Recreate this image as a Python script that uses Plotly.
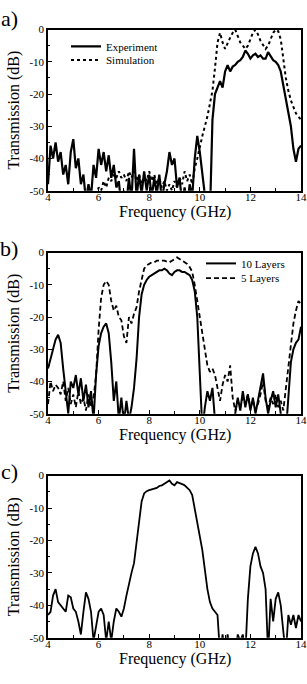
import plotly.graph_objects as go

# ---------------- data ----------------
freq = [round(4.0 + 0.1 * i, 1) for i in range(101)]

exp_a = [-48, -36, -40, -35, -41, -38, -45, -42, -48, -38,
         -34, -43, -40, -48, -45, -53, -48, -52, -42, -46,
         -37, -42, -38, -44, -39, -46, -42, -49, -47, -55,
         -50, -54, -46, -53, -37, -52, -45, -51, -44, -50,
         -45, -52, -46, -51, -45, -53, -48, -44, -38, -42,
         -40, -49, -46, -54, -49, -55, -48, -52, -40, -33,
         -38, -44, -50, -58, -58, -28, -20, -18, -16, -18,
         -13, -11, -13, -11.5, -11, -10, -9.5, -8.5, -6.5, -7.5,
         -9, -8, -7.5, -8.5, -8, -9, -9, -7, -8.5, -9.5,
         -10, -11, -13, -17, -21, -25, -30, -37, -41, -37,
         -36]

freq_sim = [round(5.8 + 0.1 * i, 1) for i in range(83)]
sim_a = [-55, -52, -49, -50, -47, -49, -46, -47, -45, -46,
         -44, -46, -45, -47, -44, -46, -44, -47, -45, -48,
         -45, -47, -44, -47, -45, -48, -46, -49, -47, -50,
         -48, -50, -47, -49, -46, -48, -44, -47, -45, -48,
         -43, -40, -36, -33, -30, -27, -23, -19, -12, -4,
         -1, -4, -6, -4.5, -2.5, -1, 0, -2, -4, -5,
         -6, -5, -3, -1, 0, -1.5, -3.5, -5, -6, -5,
         -3, -1, 0, -0.5, -3, -9, -15, -19, -22, -24,
         -26, -27, -28]

layers10_b = [-36, -33, -30, -27, -25.5, -28, -36, -44, -50, -40,
              -42, -38, -44, -39, -46, -41, -48, -43, -52, -38,
              -29, -25, -23, -22, -25, -34, -46, -40, -52, -45,
              -53, -46, -52, -48, -42, -33, -20, -13, -10, -8.5,
              -7.5, -7, -6.5, -6, -5.5, -5.5, -5, -5.5, -6.5, -7,
              -6, -5.5, -5.5, -6, -6, -6.5, -7, -8.5, -12, -20,
              -38, -55, -48, -43, -46, -42, -52, -56, -56, -56,
              -56, -56, -56, -56, -50, -45, -49, -43, -48, -44,
              -49, -45, -50, -46, -42, -37.5, -45, -50, -46, -43,
              -48, -44, -50, -56, -56, -45, -34, -30, -28, -27,
              -23]

layers5_b = [-47, -40, -43, -41, -42, -44, -40, -46, -42, -47,
             -44, -48, -43, -47, -45, -49, -44, -48, -45, -38,
             -24, -14, -10, -8.8, -10, -15, -18, -16.5, -20, -21,
             -26, -28, -20, -22, -19, -17, -12, -8, -5, -4,
             -3.5, -3, -3, -2.5, -2.5, -2.5, -2.5, -2.8, -3, -2.5,
             -2, -1.5, -2, -2.5, -3, -3.5, -4.5, -6, -10, -15,
             -20, -25, -30, -35, -37, -36, -38, -42, -46, -41,
             -38, -40, -35, -45, -49, -46, -48, -45, -47, -44,
             -48, -46, -49, -47, -44, -40, -46, -48, -45, -47,
             -44, -48, -46, -49, -42, -35, -28, -22, -18, -15,
             -16]

trans_c = [-43, -42, -37, -35, -39, -40, -41, -42, -37, -37.5,
           -41, -42, -45, -49, -42, -36, -38, -42, -51, -46,
           -42, -41, -43, -51, -45, -51, -45, -41, -42, -43.5,
           -41, -37, -33, -30, -27, -21, -15, -8, -5.5, -4.8,
           -4.5, -4.2, -4, -3.8, -3.2, -3, -2.5, -2, -1.5, -2.5,
           -3, -2, -2.2, -2.6, -3, -3.8, -4.5, -6, -10, -14,
           -18, -23, -29, -35, -39, -41, -42, -43, -55, -49,
           -55, -49, -55, -55, -55, -49, -51, -49, -55, -38,
           -28, -24, -22, -24, -28, -30, -35, -55, -38, -45,
           -38, -36, -40, -48, -55, -43, -46, -43, -47, -43,
           -45]

xtick_vals = [4, 6, 8, 10, 12, 14]
xtick_text = ["4", "6", "8", "10", "12", "14"]
ytick_vals = [0, -10, -20, -30, -40, -50]
ytick_text = ["0", "-10", "-20", "-30", "-40", "-50"]
panel_labels = ["a)", "b)", "c)"]
x_title = "Frequency (GHz)"
y_title = "Transmission (dB)"

# ---------------- figure ----------------
W, H = 307, 684
FONT = "Liberation Serif"
ML, MR = 48, 6
PW = W - ML - MR

def py(p):
    return 1 - p / H

def px(p):
    return (p - ML) / PW

fig = go.Figure()

fig.add_trace(go.Scatter(x=freq, y=exp_a, mode="lines", name="Experiment",
                         line=dict(color="black", width=2.2),
                         xaxis="x", yaxis="y", legend="legend"))
fig.add_trace(go.Scatter(x=freq_sim, y=sim_a, mode="lines", name="Simulation",
                         line=dict(color="black", width=2, dash="dot"),
                         xaxis="x", yaxis="y", legend="legend2"))
fig.add_trace(go.Scatter(x=freq, y=layers10_b, mode="lines", name="10 Layers",
                         line=dict(color="black", width=2),
                         xaxis="x2", yaxis="y2", legend="legend3"))
fig.add_trace(go.Scatter(x=freq, y=layers5_b, mode="lines", name="5 Layers",
                         line=dict(color="black", width=1.8, dash="5px,3px"),
                         xaxis="x2", yaxis="y2", legend="legend4"))
fig.add_trace(go.Scatter(x=freq, y=trans_c, mode="lines", name="c",
                         line=dict(color="black", width=1.8),
                         xaxis="x3", yaxis="y3", showlegend=False))

panels = [(24, 188), (251, 415), (478, 643)]

def xaxis(anchor):
    return dict(range=[4, 14], tickvals=xtick_vals, ticktext=xtick_text,
                ticks="inside", ticklen=4, tickwidth=1, tickcolor="black",
                minor=dict(ticks="inside", dtick=1, ticklen=2.5, tickcolor="black"),
                showline=True, linecolor="black", linewidth=1.5, mirror=True,
                showgrid=False, zeroline=False, anchor=anchor,
                ticklabelstandoff=-5,
                tickfont=dict(family=FONT, size=11, color="black"))

def yaxis(anchor, dom):
    return dict(range=[-50, 0], tickvals=ytick_vals, ticktext=ytick_text,
                ticks="inside", ticklen=4, tickwidth=1, tickcolor="black",
                minor=dict(ticks="inside", dtick=5, ticklen=2.5, tickcolor="black"),
                showline=True, linecolor="black", linewidth=1.5, mirror=True,
                showgrid=False, zeroline=False, anchor=anchor, domain=dom,
                tickfont=dict(family=FONT, size=11, color="black"),
                title=dict(text=y_title, standoff=6,
                           font=dict(family=FONT, size=16, color="black")))

layout = dict(width=W, height=H, margin=dict(l=ML, r=MR, t=0, b=0),
              paper_bgcolor="white", plot_bgcolor="white",
              font=dict(family=FONT, color="black"))
names = ["", "2", "3"]
for i, (top, bot) in enumerate(panels):
    dom = [py(bot), py(top)]
    layout["xaxis" + names[i]] = xaxis("y" + names[i])
    layout["yaxis" + names[i]] = yaxis("x" + names[i], dom)

fig.update_layout(**layout)

def leg(x_px, y_px):
    return dict(font=dict(family=FONT, size=11, color="black"),
                bgcolor="rgba(0,0,0,0)", borderwidth=0, itemwidth=30,
                x=px(x_px), y=py(y_px), xanchor="left", yanchor="middle")

fig.update_layout(
    legend=leg(66, 41), legend2=leg(66, 55),
    legend3=leg(201, 262), legend4=leg(201, 277),
)

label_y = [13, 247, 474]
for lab, ly in zip(panel_labels, label_y):
    fig.add_annotation(text=lab, xref="paper", yref="paper",
                       x=px(20), y=py(ly),
                       xanchor="right", yanchor="middle", showarrow=False,
                       font=dict(family=FONT, size=22, color="black"))

for top, bot in panels:
    fig.add_annotation(text=x_title, xref="paper", yref="paper",
                       x=0.5, y=py(bot + 22), xanchor="center", yanchor="middle",
                       showarrow=False,
                       font=dict(family=FONT, size=16, color="black"))

fig.write_html("out.html")
